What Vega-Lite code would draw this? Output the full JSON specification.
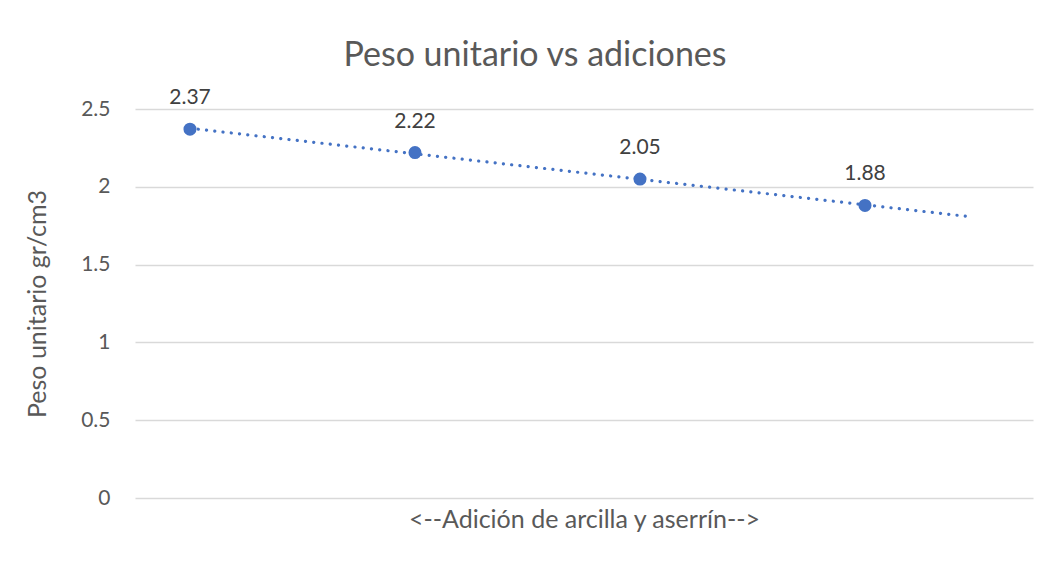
{
  "$schema": "https://vega.github.io/schema/vega-lite/v6.json",
  "width": 898,
  "height": 389,
  "autosize": "none",
  "padding": {"left": 135, "top": 109, "right": 23, "bottom": 64},
  "background": "white",
  "config": {
    "view": {"stroke": null},
    "font": "Lato"
  },
  "title": {
    "text": "Peso unitario vs adiciones",
    "font": "Lato",
    "fontSize": 34,
    "fontWeight": "normal",
    "color": "#595959",
    "anchor": "middle",
    "dx": -49,
    "offset": 14
  },
  "datasets": {
    "pts": [
      {"x": 1, "peso": 2.37},
      {"x": 2, "peso": 2.22},
      {"x": 3, "peso": 2.05},
      {"x": 4, "peso": 1.88}
    ],
    "trend": [
      {"x": 1, "peso": 2.376},
      {"x": 4.471, "peso": 1.807}
    ]
  },
  "layer": [
    {
      "data": {"name": "trend"},
      "mark": {"type": "line", "color": "#4472C4", "strokeWidth": 3.2, "strokeCap": "round", "strokeDash": [0.1, 8.2]},
      "encoding": {
        "x": {"field": "x", "type": "quantitative", "scale": {"domain": [0.7556, 4.7467], "nice": false, "zero": false},
          "axis": {"title": "<--Adición de arcilla y aserrín-->", "titleFont": "Lato", "titleFontSize": 25, "titleFontWeight": "normal", "titleColor": "#595959", "titlePadding": 9, "labels": false, "ticks": false, "domain": false, "grid": false}},
        "y": {"field": "peso", "type": "quantitative", "scale": {"domain": [0, 2.5], "nice": false},
          "axis": {"title": "Peso unitario gr/cm3", "titleFont": "Lato", "titleFontSize": 25, "titleFontWeight": "normal", "titleColor": "#595959", "titlePadding": 30,
            "values": [0, 0.5, 1, 1.5, 2, 2.5], "format": "~g", "labelFont": "Lato", "labelFontSize": 21, "labelColor": "#595959", "labelPadding": 25,
            "ticks": false, "domain": false, "grid": true, "gridColor": "#d9d9d9", "gridWidth": 1.3}}
      }
    },
    {
      "data": {"name": "pts"},
      "mark": {"type": "circle", "color": "#4472C4", "opacity": 1, "size": 170},
      "encoding": {
        "x": {"field": "x", "type": "quantitative"},
        "y": {"field": "peso", "type": "quantitative"}
      }
    },
    {
      "data": {"name": "pts"},
      "mark": {"type": "text", "font": "Lato", "fontSize": 21, "color": "#404040", "dy": -31},
      "encoding": {
        "x": {"field": "x", "type": "quantitative"},
        "y": {"field": "peso", "type": "quantitative"},
        "text": {"field": "peso", "type": "quantitative", "format": ".2f"}
      }
    }
  ]
}
